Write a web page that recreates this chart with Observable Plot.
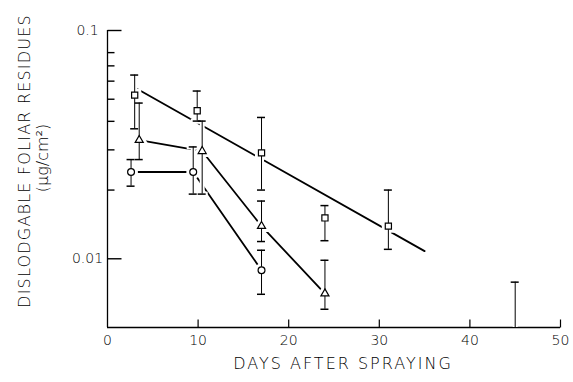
<!DOCTYPE html>
<html><head><meta charset="utf-8">
<script src="https://cdn.jsdelivr.net/npm/d3@7"></script>
<script src="https://cdn.jsdelivr.net/npm/@observablehq/plot@0.6"></script>
<style>body{margin:0;background:#fff}</style>
</head><body><div id="chart"></div>
<script>
// ---- data ----
const xTicks = [0, 10, 20, 30, 40, 50];
const xTickMarks = [10, 20, 30, 40, 50];
const yTicks = [0.01, 0.1];
const yTickLabels = ["0.01", "0.1"];
const yMinorTicks = [0.02, 0.03, 0.04, 0.05, 0.06, 0.07, 0.08];

const squareDays = [3, 9.9, 17, 24, 31];
const squareMean = [0.0521, 0.0445, 0.0291, 0.0151, 0.0139];
const squareLow  = [0.0371, 0.0401, 0.0200, 0.0120, 0.0110];
const squareHigh = [0.0638, 0.0543, 0.0416, 0.0171, 0.0200];

const triangleDays = [3.5, 10.45, 17, 24];
const triangleMean = [0.0331, 0.0296, 0.0139, 0.00704];
const triangleLow  = [0.0272, 0.0192, 0.0119, 0.00601];
const triangleHigh = [0.0481, 0.0401, 0.0179, 0.00985];

const circleDays = [2.6, 9.46, 17];
const circleMean = [0.0240, 0.0240, 0.00891];
const circleLow  = [0.0208, 0.0192, 0.00699];
const circleHigh = [0.0272, 0.0309, 0.0109];

// regression line for squares
const squareFitDays = [3, 35];
const squareFitValues = [0.0563, 0.0108];

// lone error bar (no marker) at day 45, reaching the bottom of the axis
const loneDay = 45;
const loneLow = 0.005;
const loneHigh = 0.0079;

const xLabel = "DAYS AFTER SPRAYING";
const yLabel1 = "DISLODGABLE FOLIAR RESIDUES";
const yLabel2 = "(\u03bcg/cm\u00b2)";

// ---- build tables ----
const W = 573, H = 382, mL = 107, mR = 13, mT = 30, mB = 55;
const plotW = W - mL - mR, plotH = H - mT - mB;

function series(name, days, mean, lo, hi) {
  return days.map((d, i) => ({name, day: d, mean: mean[i], lo: lo[i], hi: hi[i]}));
}
const squares = series("square", squareDays, squareMean, squareLow, squareHigh);
const triangles = series("triangle", triangleDays, triangleMean, triangleLow, triangleHigh);
const circles = series("circle", circleDays, circleMean, circleLow, circleHigh);
const pts = [...squares, ...triangles, ...circles];
const bars = [...pts, {name: "lone", day: loneDay, lo: loneLow, hi: loneHigh}];
const lowCaps = pts;
const squareFit = squareFitDays.map((d, i) => ({day: d, v: squareFitValues[i]}));
const sizes = {square: 4.3, triangle: 3.2, circle: 4.2};

const font = "DejaVu Sans, sans-serif";
const yMin = 0.005, yMax = 0.1, xMin = 0, xMax = 50;
// inward tick lengths (pixels) expressed in scale units
const dayPerPx = (xMax - xMin) / plotW;
const decPerPx = Math.log10(yMax / yMin) / plotH;
const majorTickEnd = xMin + 14 * dayPerPx;
const minorTickEnd = xMin + 7 * dayPerPx;
const xTickTop = yMin * Math.pow(10, 8 * decPerPx);

const chart = Plot.plot({
  width: W, height: H,
  marginLeft: mL, marginRight: mR, marginTop: mT, marginBottom: mB,
  style: {fontFamily: font, fontSize: "14px", fontWeight: 300, background: "white", color: "black"},
  x: {domain: [xMin, xMax], ticks: xTicks, tickSize: 0, tickPadding: 8, label: null},
  y: {type: "log", domain: [yMin, yMax], axis: null},
  marks: [
    // axis lines
    Plot.ruleX([xMin], {stroke: "black", strokeWidth: 1.3}),
    Plot.ruleY([yMin], {stroke: "black", strokeWidth: 1.3}),
    // tick labels and titles
    Plot.text(yTicks, {y: d => d, text: (d, i) => yTickLabels[i], frameAnchor: "left", dx: -20, textAnchor: "middle", fontSize: 14}),
    Plot.text([yLabel1], {frameAnchor: "left", dx: -83, dy: -18, rotate: -90, textAnchor: "middle", fontSize: 16}),
    Plot.text([yLabel2], {frameAnchor: "left", dx: -65, dy: -21, rotate: -90, textAnchor: "middle", fontSize: 16}),
    Plot.text([xLabel], {frameAnchor: "bottom", dx: 9, dy: 41, textAnchor: "middle", fontSize: 16}),
    // lines
    Plot.line(squareFit, {x: "day", y: "v", stroke: "black", strokeWidth: 1.8}),
    Plot.line(triangles, {x: "day", y: "mean", stroke: "black", strokeWidth: 1.8}),
    Plot.line(circles, {x: "day", y: "mean", stroke: "black", strokeWidth: 1.8}),
    // white halos that break the lines near bars and markers
    Plot.ruleX(bars, {x: "day", y1: "lo", y2: "hi", stroke: "white", strokeWidth: 5}),
    Plot.ruleY(bars, {y: "hi", x1: "day", x2: "day", insetLeft: -6, insetRight: -6, stroke: "white", strokeWidth: 5}),
    Plot.ruleY(lowCaps, {y: "lo", x1: "day", x2: "day", insetLeft: -6, insetRight: -6, stroke: "white", strokeWidth: 5}),
    Plot.dot(pts, {x: "day", y: "mean", symbol: "name", r: d => sizes[d.name], fill: "white", stroke: "white", strokeWidth: 7}),
    // error bars
    Plot.ruleX(bars, {x: "day", y1: "lo", y2: "hi", stroke: "black", strokeWidth: 1}),
    Plot.ruleY(bars, {y: "hi", x1: "day", x2: "day", insetLeft: -4, insetRight: -4, stroke: "black", strokeWidth: 1.5}),
    Plot.ruleY(lowCaps, {y: "lo", x1: "day", x2: "day", insetLeft: -4, insetRight: -4, stroke: "black", strokeWidth: 1.5}),
    // markers
    Plot.dot(pts, {x: "day", y: "mean", symbol: "name", r: d => sizes[d.name], fill: "white", stroke: "black", strokeWidth: 1.2}),
    // inward tick marks
    Plot.link(yTicks, {x1: () => xMin, x2: () => majorTickEnd, y1: d => d, y2: d => d, stroke: "black", strokeWidth: 1.4}),
    Plot.link(yMinorTicks, {x1: () => xMin, x2: () => minorTickEnd, y1: d => d, y2: d => d, stroke: "black", strokeWidth: 1.4}),
    Plot.link(xTickMarks, {x1: d => d, x2: d => d, y1: () => yMin, y2: () => xTickTop, stroke: "black", strokeWidth: 1.2})
  ]
});
chart.querySelectorAll("text").forEach(t => {
  if (t.textContent === xLabel) t.style.letterSpacing = "2px";
  if (t.textContent === yLabel1) t.style.letterSpacing = "1.2px";
});
document.getElementById("chart").appendChild(chart);
</script>
</body></html>
